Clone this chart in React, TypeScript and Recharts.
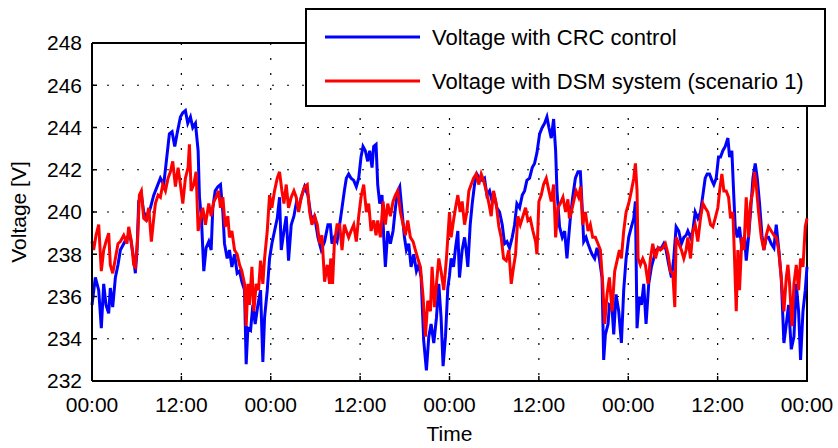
import React from "react";
import { LineChart, Line, XAxis, YAxis, CartesianGrid, Legend } from "recharts";

// axis ticks: hours since start (4 days), voltage in V
const timeTicks = [0, 12, 24, 36, 48, 60, 72, 84, 96];
const voltTicks = [232, 234, 236, 238, 240, 242, 244, 246, 248];

// voltage with CRC control (blue)
const crcTime = [
  0.0, 0.45, 0.9, 1.25, 1.57, 1.88, 2.24, 2.46, 2.78, 3.14, 3.49, 3.81, 4.26, 4.7, 5.15, 5.6, 5.82, 6.05,
  6.27, 6.63, 6.94, 7.39, 7.84, 8.29, 8.74, 9.18, 9.63, 9.95, 10.39, 10.75, 11.11, 11.42, 11.87, 12.19,
  12.54, 12.86, 13.22, 13.53, 13.89, 14.25, 14.43, 14.69, 15.01, 15.32, 15.68, 16.0, 16.22, 16.54, 16.9,
  17.25, 17.57, 17.79, 18.15, 18.46, 18.78, 19.14, 19.49, 19.81, 20.12, 20.48, 20.7, 20.93, 21.29, 21.6,
  21.91, 22.27, 22.63, 22.94, 23.17, 23.53, 23.84, 24.15, 24.51, 24.87, 25.18, 25.41, 25.77, 26.08, 26.39,
  26.75, 27.11, 27.42, 27.74, 28.1, 28.54, 28.99, 29.44, 29.89, 30.34, 30.78, 31.23, 31.68, 32.0, 32.22,
  32.54, 32.9, 33.25, 33.57, 33.88, 34.15, 34.46, 34.78, 35.14, 35.49, 35.81, 36.12, 36.39, 36.7, 37.02,
  37.29, 37.6, 37.82, 38.14, 38.36, 38.63, 38.94, 39.17, 39.39, 39.71, 40.06, 40.42, 40.74, 41.05, 41.32,
  41.63, 41.95, 42.21, 42.53, 42.84, 43.2, 43.56, 43.87, 44.19, 44.54, 44.9, 45.22, 45.53, 45.89, 46.25,
  46.56, 46.87, 47.14, 47.46, 47.77, 48.0, 48.22, 48.54, 48.81, 49.12, 49.34, 49.7, 50.02, 50.24, 50.46,
  50.78, 51.05, 51.36, 51.67, 52.03, 52.39, 52.7, 53.02, 53.38, 53.73, 54.05, 54.36, 54.72, 55.08, 55.39,
  55.71, 56.06, 56.42, 56.74, 57.05, 57.41, 57.77, 58.08, 58.39, 58.75, 59.11, 59.42, 59.74, 60.1, 60.45,
  60.77, 61.08, 61.35, 61.66, 61.98, 62.25, 62.43, 62.78, 63.14, 63.46, 63.77, 64.0, 64.22, 64.54, 64.9,
  65.25, 65.57, 65.79, 66.02, 66.33, 66.6, 66.91, 67.14, 67.49, 67.81, 68.12, 68.48, 68.7, 68.93, 69.29,
  69.47, 69.82, 70.05, 70.36, 70.72, 71.08, 71.39, 71.71, 72.06, 72.42, 72.74, 72.96, 73.18, 73.5, 73.77,
  74.08, 74.39, 74.75, 75.11, 75.42, 75.74, 76.1, 76.45, 76.77, 77.08, 77.44, 77.8, 78.11, 78.43, 78.78,
  79.14, 79.46, 79.77, 80.0, 80.36, 80.67, 80.99, 81.34, 81.7, 82.02, 82.33, 82.6, 82.91, 83.23, 83.49,
  83.81, 84.12, 84.39, 84.7, 85.02, 85.38, 85.6, 85.91, 86.18, 86.36, 86.63, 86.94, 87.26, 87.62, 87.84,
  88.15, 88.42, 88.74, 89.05, 89.32, 89.63, 89.95, 90.21, 90.53, 90.84, 91.2, 91.56, 91.87, 92.19, 92.54,
  92.9, 93.22, 93.53, 93.89, 94.25, 94.56, 94.87, 95.14, 95.46, 95.77, 96.0,
];
const crcVolt = [
  235.6, 236.9, 236.3, 234.5, 236.6, 235.6, 235.2, 236.4, 235.5, 236.9, 237.5, 238.2, 238.5, 238.8, 238.8,
  237.8, 237.1, 238.2, 240.5, 240.8, 240.0, 239.7, 240.2, 240.8, 241.2, 241.6, 241.3, 242.3, 243.7, 243.8,
  243.1, 243.7, 244.5, 244.7, 244.8, 244.2, 244.5, 244.0, 244.2, 242.9, 240.7, 239.7, 237.2, 238.3, 238.6,
  238.2, 240.2, 241.0, 241.2, 241.3, 240.0, 238.5, 237.8, 238.2, 237.4, 238.0, 237.1, 237.2, 236.7, 236.3,
  232.8, 234.5, 234.4, 235.6, 234.7, 235.6, 236.3, 232.9, 235.0, 236.3, 237.8, 238.5, 239.1, 239.7, 240.7,
  238.2, 239.1, 239.8, 237.7, 239.4, 239.8, 240.4, 240.2, 240.7, 241.2, 240.8, 239.7, 239.8, 238.8, 238.2,
  238.6, 239.4, 239.4, 238.5, 238.8, 238.6, 239.4, 240.2, 241.0, 241.6, 241.8, 241.6, 241.5, 241.2, 241.6,
  242.6, 243.1, 242.9, 242.4, 242.9, 242.1, 243.1, 243.2, 241.3, 240.4, 240.8, 238.8, 237.4, 239.1, 238.5,
  239.1, 240.2, 241.0, 241.2, 240.0, 238.8, 238.2, 238.5, 237.4, 238.0, 237.2, 237.5, 236.9, 233.9, 232.5,
  234.1, 234.7, 233.8, 235.0, 236.6, 235.0, 232.7, 234.1, 236.4, 237.0, 237.8, 237.4, 238.3, 239.1, 236.9,
  238.2, 238.8, 238.2, 237.4, 239.4, 240.4, 241.3, 241.8, 241.6, 241.5, 241.6, 240.8, 241.0, 240.5, 240.7,
  240.2, 240.0, 239.4, 238.5, 238.6, 238.3, 238.8, 239.4, 240.4, 240.2, 240.8, 241.0, 241.5, 241.6, 242.1,
  242.3, 242.8, 243.7, 244.0, 244.2, 244.5, 244.0, 243.5, 244.4, 242.9, 241.0, 239.3, 238.8, 239.1, 237.8,
  238.8, 239.7, 240.7, 241.6, 241.9, 241.9, 240.4, 238.6, 238.8, 238.5, 238.2, 238.0, 237.8, 238.3, 237.8,
  236.9, 233.0, 234.2, 234.7, 235.6, 235.5, 234.2, 236.1, 235.3, 233.8, 236.3, 237.8, 238.8, 239.3, 239.7,
  240.5, 234.5, 236.0, 235.6, 236.6, 234.7, 236.6, 237.4, 237.8, 238.2, 238.3, 238.3, 238.5, 238.2, 237.5,
  236.9, 237.8, 239.3, 239.1, 238.5, 238.8, 238.9, 239.1, 238.8, 239.1, 240.0, 239.7, 240.0, 240.8, 241.6,
  241.8, 241.8, 241.5, 241.3, 241.6, 242.6, 242.6, 242.9, 243.1, 243.5, 242.6, 242.9, 240.7, 239.3, 238.8,
  239.3, 238.2, 238.9, 237.7, 238.8, 240.0, 241.6, 242.3, 241.6, 240.4, 238.9, 238.2, 238.8, 238.8, 238.5,
  238.3, 239.4, 238.3, 236.9, 233.8, 234.7, 235.6, 233.5, 234.1, 236.6, 235.3, 233.0, 235.3, 236.3, 237.4,
];

// voltage with DSM system, scenario 1 (red)
const dsmTime = [
  0.0, 0.22, 0.54, 0.9, 1.25, 1.57, 1.88, 2.24, 2.46, 2.78, 3.14, 3.49, 3.81, 4.26, 4.7, 4.93, 5.29, 5.6,
  5.82, 6.14, 6.36, 6.63, 6.94, 7.26, 7.62, 7.97, 8.29, 8.51, 8.87, 9.18, 9.5, 9.86, 10.21, 10.53, 10.84,
  11.2, 11.56, 11.87, 12.19, 12.54, 12.9, 13.08, 13.31, 13.66, 13.98, 14.25, 14.56, 14.87, 15.23, 15.68,
  16.0, 16.36, 16.67, 16.99, 17.25, 17.57, 17.88, 18.24, 18.46, 18.78, 19.14, 19.49, 19.81, 20.12, 20.48,
  20.7, 20.93, 21.15, 21.47, 21.73, 22.05, 22.36, 22.63, 22.94, 23.17, 23.53, 23.84, 24.15, 24.51, 24.87,
  25.18, 25.5, 25.77, 26.08, 26.39, 26.75, 27.11, 27.42, 27.74, 28.1, 28.54, 28.9, 29.22, 29.53, 29.89,
  30.25, 30.56, 30.87, 31.23, 31.59, 31.9, 32.05, 32.3, 32.54, 32.9, 33.25, 33.57, 33.88, 34.15, 34.46,
  34.78, 35.14, 35.49, 35.81, 36.12, 36.48, 36.84, 37.15, 37.47, 37.82, 38.14, 38.36, 38.72, 39.08, 39.39,
  39.71, 40.06, 40.42, 40.74, 41.05, 41.41, 41.77, 42.08, 42.39, 42.75, 43.11, 43.42, 43.74, 44.1, 44.45,
  44.77, 45.08, 45.44, 45.66, 45.98, 46.25, 46.56, 46.87, 47.23, 47.59, 48.0, 48.22, 48.54, 48.81, 49.12,
  49.43, 49.7, 50.02, 50.33, 50.6, 50.91, 51.23, 51.58, 51.94, 52.26, 52.57, 52.93, 53.29, 53.6, 53.91,
  54.27, 54.63, 54.94, 55.26, 55.62, 55.97, 56.29, 56.6, 56.87, 57.18, 57.5, 57.86, 58.21, 58.53, 58.84,
  59.2, 59.56, 59.74, 60.0, 60.32, 60.63, 60.99, 61.35, 61.66, 61.98, 62.25, 62.56, 62.87, 63.23, 63.59,
  63.9, 64.1, 64.36, 64.67, 64.99, 65.34, 65.61, 65.88, 66.24, 66.6, 66.91, 67.23, 67.58, 67.94, 68.26,
  68.57, 68.84, 69.15, 69.47, 69.82, 70.18, 70.5, 70.81, 71.08, 71.39, 71.71, 72.06, 72.42, 72.74, 72.96,
  73.18, 73.32, 73.63, 73.95, 74.3, 74.66, 74.98, 75.29, 75.65, 76.01, 76.32, 76.63, 76.99, 77.35, 77.66,
  77.98, 78.25, 78.43, 78.78, 79.14, 79.46, 79.77, 80.0, 80.36, 80.67, 80.99, 81.34, 81.7, 82.02, 82.33,
  82.69, 83.05, 83.36, 83.67, 84.03, 84.26, 84.57, 84.84, 85.15, 85.47, 85.73, 86.05, 86.27, 86.5, 86.72,
  86.94, 87.26, 87.53, 87.84, 88.15, 88.42, 88.74, 88.96, 89.18, 89.5, 89.86, 90.21, 90.53, 90.84, 91.2,
  91.56, 91.87, 92.19, 92.54, 92.9, 93.22, 93.44, 93.66, 93.98, 94.25, 94.56, 94.87, 95.14, 95.46, 95.77,
  96.0,
];
const dsmVolt = [
  238.6, 238.2, 238.9, 239.4, 237.2, 238.2, 238.6, 239.0, 237.5, 237.1, 237.8, 238.5, 238.6, 238.9, 238.5,
  239.3, 238.6, 237.5, 237.4, 238.8, 240.8, 241.0, 239.7, 239.6, 240.2, 238.6, 239.7, 240.4, 240.8, 240.7,
  241.3, 241.0, 241.6, 241.9, 242.4, 241.2, 242.1, 241.3, 240.4, 241.6, 242.1, 243.2, 241.0, 241.3, 241.9,
  239.1, 239.7, 240.2, 239.4, 240.4, 239.8, 240.5, 240.7, 241.0, 240.2, 240.7, 239.3, 239.8, 238.8, 239.1,
  238.2, 238.0, 237.5, 237.2, 236.6, 234.6, 236.6, 235.6, 237.4, 235.3, 236.6, 236.3, 237.7, 236.6, 237.8,
  239.1, 240.8, 240.2, 241.0, 241.6, 241.9, 241.0, 240.4, 241.3, 240.2, 240.7, 241.0, 240.7, 240.0, 240.7,
  241.2, 241.3, 240.0, 239.4, 239.8, 239.4, 238.5, 238.9, 236.7, 237.5, 236.6, 237.8, 236.6, 238.5, 239.4,
  239.4, 238.2, 239.4, 239.1, 238.8, 239.1, 239.4, 238.6, 239.8, 240.7, 241.3, 240.0, 240.4, 239.1, 239.6,
  238.9, 239.6, 238.8, 240.5, 239.4, 240.4, 239.8, 240.5, 240.8, 241.0, 240.0, 239.4, 238.9, 239.6, 238.8,
  238.6, 238.2, 237.8, 237.4, 236.0, 234.1, 235.8, 235.3, 237.4, 235.5, 236.6, 237.8, 237.2, 236.3, 237.8,
  240.0, 238.8, 239.6, 240.2, 240.8, 240.0, 240.5, 239.4, 240.0, 241.0, 241.3, 241.6, 241.8, 241.3, 241.8,
  241.5, 241.0, 240.4, 239.8, 241.0, 240.4, 239.3, 238.8, 237.8, 237.7, 238.2, 236.6, 237.4, 238.0, 239.8,
  239.4, 239.8, 240.2, 239.6, 239.7, 239.1, 238.6, 238.0, 240.5, 240.8, 241.3, 241.6, 241.0, 240.5, 241.3,
  238.8, 240.2, 240.4, 240.7, 240.0, 240.6, 239.7, 240.0, 240.5, 241.0, 240.7, 241.2, 239.4, 240.0, 239.1,
  239.4, 238.8, 238.8, 238.5, 238.2, 236.6, 234.7, 236.1, 236.9, 235.3, 237.2, 237.7, 238.2, 237.8, 239.1,
  240.0, 240.4, 241.0, 241.6, 242.3, 241.0, 237.8, 237.5, 237.8, 237.5, 236.6, 237.8, 238.5, 237.8, 238.3,
  238.2, 238.3, 238.5, 238.0, 237.2, 237.1, 235.5, 238.8, 238.5, 238.2, 237.8, 238.2, 238.8, 237.8, 239.1,
  239.4, 238.6, 239.7, 240.4, 240.2, 240.0, 239.4, 239.3, 239.7, 240.2, 241.0, 241.8, 241.0, 241.0, 240.7,
  239.7, 240.0, 237.8, 235.3, 238.2, 236.3, 238.8, 238.2, 240.7, 238.8, 240.4, 241.0, 241.9, 241.3, 240.0,
  238.8, 238.2, 238.9, 239.3, 239.1, 238.9, 238.8, 238.2, 236.9, 235.3, 236.9, 237.5, 236.6, 234.6, 236.6,
  237.5, 236.3, 237.8, 237.4, 239.3, 239.7,
];

const crcData = crcTime.map((t, i) => ({ t, v: crcVolt[i] }));
const dsmData = dsmTime.map((t, i) => ({ t, v: dsmVolt[i] }));

const FONT = '"Liberation Sans", Arial, Helvetica, sans-serif';

const fmtTime = (t: number) => (t % 24 === 0 ? "00:00" : "12:00");

// legend drawn as a boxed svg, one row per series
function LegendBox(props: any) {
  const items = props.payload || [];
  return (
    <svg width={517} height={95} style={{ display: "block" }}>
      {items.map((p: any, i: number) => (
        <g key={i}>
          <line x1={18} x2={113} y1={27 + i * 44} y2={27 + i * 44} stroke={p.color} strokeWidth={3} />
          <text x={125} y={35 + i * 44} fontSize={22} fill="#000" fontFamily={FONT}>
            {p.value}
          </text>
        </g>
      ))}
    </svg>
  );
}

export default function App() {
  return (
    <div style={{ position: "absolute", left: 0, top: 0, width: 838, height: 448, background: "#fff", fontFamily: FONT }}>
      {/* top and right edges of the axes box, painted under the chart so the legend covers them */}
      <div
        style={{
          position: "absolute",
          left: 92,
          top: 42,
          width: 716,
          height: 340,
          borderTop: "2px solid #000",
          borderRight: "2px solid #000",
          boxSizing: "border-box",
          pointerEvents: "none",
        }}
      />
      <LineChart width={838} height={448} margin={{ top: 43, right: 31, bottom: 5, left: 31 }}>
        <CartesianGrid stroke="#000" strokeDasharray="2 13" strokeWidth={1.2} />
        <XAxis
          dataKey="t"
          type="number"
          domain={[0, 96]}
          ticks={timeTicks}
          tickFormatter={fmtTime}
          interval={0}
          height={62}
          axisLine={{ stroke: "#000", strokeWidth: 2 }}
          tickLine={{ stroke: "#000", strokeWidth: 1.5 }}
          tickSize={-5}
          tickMargin={21}
          tick={{ fontSize: 21, fill: "#000" }}
          label={{ value: "Time", position: "insideBottom", offset: 2, fontSize: 21, fill: "#000" }}
        />
        <YAxis
          type="number"
          domain={[232, 248]}
          ticks={voltTicks}
          interval={0}
          width={61}
          axisLine={{ stroke: "#000", strokeWidth: 2 }}
          tickLine={{ stroke: "#000", strokeWidth: 1.5 }}
          tickSize={-5}
          tickMargin={15}
          tick={{ fontSize: 21, fill: "#000" }}
          label={{
            content: (p: any) => {
              const vb = p.viewBox || { y: 43, height: 338 };
              const cy = vb.y + vb.height / 2;
              return (
                <text x={26} y={cy} transform={`rotate(-90 26 ${cy})`} textAnchor="middle" fontSize={21} fill="#000">
                  Voltage [V]
                </text>
              );
            },
          }}
        />
        <Legend
          layout="vertical"
          align="center"
          verticalAlign="middle"
          content={LegendBox}
          wrapperStyle={{
            left: 305,
            top: 8,
            width: 521,
            height: 99,
            border: "2px solid #000",
            background: "#fff",
            boxSizing: "border-box",
            margin: 0,
            padding: 0,
            zIndex: 2,
          }}
        />
        <Line
          data={crcData}
          dataKey="v"
          name="Voltage with CRC control"
          type="linear"
          stroke="#0000ff"
          strokeWidth={3}
          dot={false}
          isAnimationActive={false}
        />
        <Line
          data={dsmData}
          dataKey="v"
          name="Voltage with DSM system (scenario 1)"
          type="linear"
          stroke="#ff0000"
          strokeWidth={3}
          dot={false}
          isAnimationActive={false}
        />
      </LineChart>
    </div>
  );
}
